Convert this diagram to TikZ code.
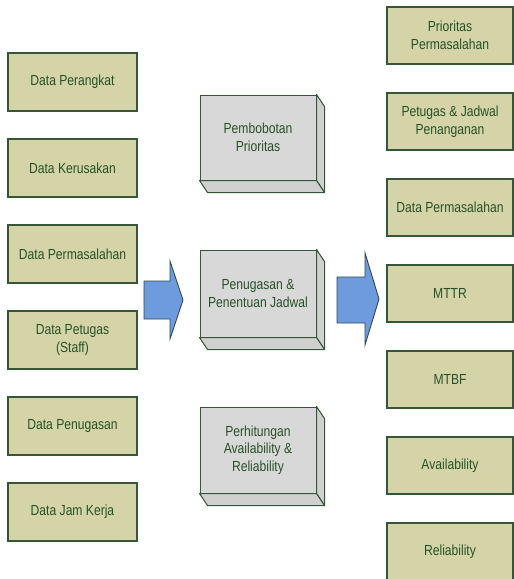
\documentclass[tikz,border=0pt]{standalone}
\usepackage{fontspec}
\setmainfont{Liberation Sans}[FakeStretch=0.83]
\definecolor{boxfill}{RGB}{212,212,168}
\definecolor{boxline}{RGB}{55,85,55}
\definecolor{txt}{RGB}{40,80,40}
\definecolor{arrfill}{RGB}{110,155,220}
\definecolor{arrline}{RGB}{45,75,85}
\definecolor{cubefront}{RGB}{216,216,216}
\definecolor{cubeside}{RGB}{208,208,208}
\tikzset{
  lbl/.style={text=txt, align=center, inner sep=0pt, font=\fontsize{14.6}{17.5}\selectfont},
  databox/.style={lbl, draw=boxline, fill=boxfill, line width=1.2pt, minimum width=129pt, minimum height=58pt},
  outbox/.style={lbl, draw=boxline, fill=boxfill, line width=1.2pt, minimum width=126pt, minimum height=57pt},
  cube/.style={lbl, draw=boxline, fill=cubefront, line width=1pt, minimum width=116pt},
  cubeside/.style={draw=boxline, fill=cubeside, line width=1pt, line join=round},
  bigarrow/.style={draw=arrline, fill=arrfill, line width=0.9pt, line join=miter}
}
\newcommand{\cubedepth}[1]{%
  \path (#1.north east) ++(8,12) coordinate (#1-tr);
  \path (#1.south east) ++(8,12) coordinate (#1-br);
  \path (#1.south west) ++(8,12) coordinate (#1-bl);
  \draw[cubeside] (#1.north east) -- (#1-tr) -- (#1-br) -- (#1.south east) -- cycle;
  \draw[cubeside] (#1.south west) -- (#1.south east) -- (#1-br) -- (#1-bl) -- cycle;
}
\begin{document}
\begin{tikzpicture}[x=1pt,y=-1pt]
\clip (0,0) rectangle (514,579);
\useasboundingbox (0,0) rectangle (514,579);
\fill[white] (0,0) rectangle (514,579);

% left data boxes
\node[databox] (d1) at (72.5,82)  {Data Perangkat};
\node[databox] (d2) at (72.5,168) {Data Kerusakan};
\node[databox] (d3) at (72.5,254) {Data Permasalahan};
\node[databox] (d4) at (72.5,340) {Data Petugas\\(Staff)};
\node[databox] (d5) at (72.5,426) {Data Penugasan};
\node[databox] (d6) at (72.5,512) {Data Jam Kerja};

% middle process cubes
\node[cube, minimum height=85pt] (p1) at (258,137.5) {Pembobotan\\Prioritas};
\cubedepth{p1}
\node[cube, minimum height=87pt] (p2) at (258,293.5) {Penugasan \&\\Penentuan Jadwal};
\cubedepth{p2}
\node[cube, minimum height=86pt] (p3) at (258,450) {Perhitungan\\Availability \&\\Reliability};
\cubedepth{p3}

% right output boxes
\node[outbox] (o1) at (450,35.5)  {Prioritas\\Permasalahan};
\node[outbox] (o2) at (450,121.5) {Petugas \& Jadwal\\Penanganan};
\node[outbox] (o3) at (450,207.5) {Data Permasalahan};
\node[outbox] (o4) at (450,293.5) {MTTR};
\node[outbox] (o5) at (450,379.5) {MTBF};
\node[outbox] (o6) at (450,465.5) {Availability};
\node[outbox] (o7) at (450,551.5) {Reliability};

% big arrows
\draw[bigarrow] (144,281) -- (170,281) -- (170,261) -- (183,300) -- (170,339) -- (170,319) -- (144,319) -- cycle;
\draw[bigarrow] (337,277) -- (365,277) -- (365,253) -- (379,299) -- (365,345) -- (365,323) -- (337,323) -- cycle;
\end{tikzpicture}
\end{document}
